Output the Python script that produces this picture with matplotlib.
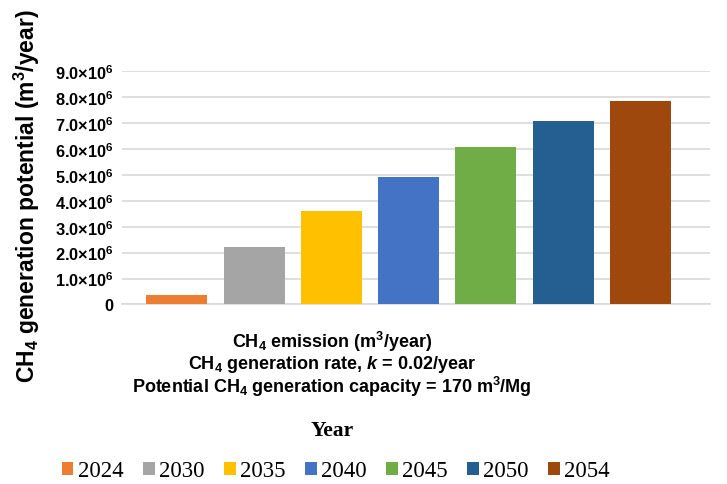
import matplotlib
matplotlib.use("Agg")
import matplotlib.pyplot as plt
from matplotlib.ticker import FuncFormatter, MultipleLocator

# CH4 generation potential per year (m3/year)
years = ["2024", "2030", "2035", "2040", "2045", "2050", "2054"]
ch4_potential = [0.36e6, 2.22e6, 3.61e6, 4.91e6, 6.07e6, 7.09e6, 7.85e6]
bar_colors = ["#ED7D31", "#A5A5A5", "#FFC000", "#4472C4", "#70AD47", "#255E91", "#9E480E"]

plt.rcParams["font.family"] = "Liberation Sans"
plt.rcParams["mathtext.fontset"] = "custom"
plt.rcParams["mathtext.rm"] = "Liberation Sans:bold"
plt.rcParams["mathtext.bf"] = "Liberation Sans:bold"
plt.rcParams["mathtext.it"] = "Liberation Sans:bold:italic"

fig = plt.figure(figsize=(7.27, 4.85), dpi=100)
ax = fig.add_axes([122 / 727, 1 - 305.4 / 485, (710 - 122) / 727, (305.4 - 72.3) / 485])

# one bar per year
for i, (yr, val, col) in enumerate(zip(years, ch4_potential, bar_colors)):
    ax.bar(i, val, width=0.79, color=col, label=yr, zorder=3)

ax.set_xlim(-0.71, 6.9)
ax.set_ylim(0, 9.0e6)
ax.yaxis.set_major_locator(MultipleLocator(1.0e6))
ax.yaxis.set_major_formatter(FuncFormatter(
    lambda v, p: "0" if v == 0 else f"{v / 1e6:.1f}×10$^6$"))
ax.set_xticks([])
ax.grid(axis="y", color="#d9d9d9", linewidth=1.2, zorder=0)
for s in ["top", "right", "left"]:
    ax.spines[s].set_visible(False)
ax.spines["bottom"].set_color("#d9d9d9")
ax.spines["bottom"].set_linewidth(1.2)
ax.tick_params(axis="y", length=0, pad=6, labelsize=11.8)
for t in ax.get_yticklabels():
    t.set_fontweight("bold")

# y-axis title
fig.text(27 / 727, 1 - 196 / 485, "CH$_4$ generation potential (m$^3$/year)",
         rotation=90, ha="center", va="center", fontsize=16.5, fontweight="bold")

# x-axis notes
cx = 332 / 727
fig.text(cx, 1 - 342 / 485, "CH$_4$ emission (m$^3$/year)",
         ha="center", va="center", fontsize=13, fontweight="bold")
fig.text(cx, 1 - 365 / 485, "CH$_4$ generation rate, $k$ = 0.02/year",
         ha="center", va="center", fontsize=13, fontweight="bold")
fig.text(cx, 1 - 387 / 485, "Potential CH$_4$ generation capacity = 170 m$^3$/Mg",
         ha="center", va="center", fontsize=13, fontweight="bold")
fig.text(cx, 1 - 431 / 485, "Year", ha="center", va="center",
         fontsize=15.5, fontweight="bold", family="Liberation Serif")

fig.legend(loc="center", bbox_to_anchor=(336 / 727, 1 - 472 / 485), ncol=7,
           frameon=False, prop={"family": "Liberation Serif", "size": 16.5},
           handlelength=0.5, handleheight=0.5, handletextpad=0.2,
           columnspacing=0.85, borderaxespad=0)

fig.savefig("out.png", dpi=100)
